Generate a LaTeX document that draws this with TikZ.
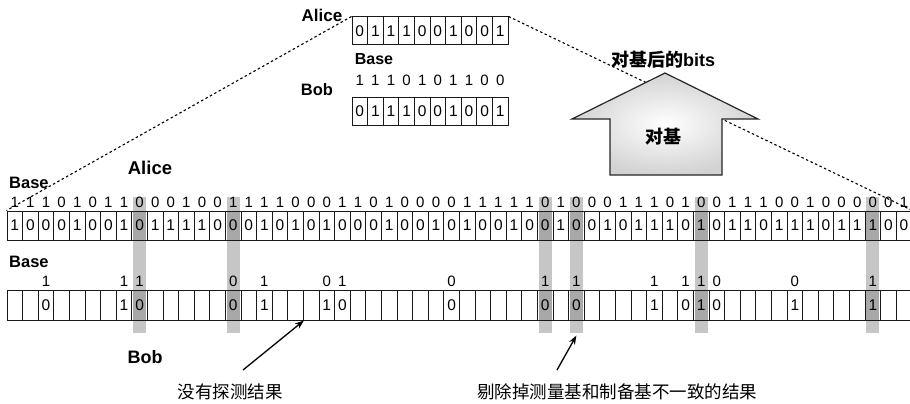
\documentclass[tikz,border=0pt]{standalone}
\usepackage{fontspec}
\setmainfont{Liberation Sans}
\newfontfamily\cjk{Noto Sans CJK SC}
\usetikzlibrary{arrows.meta}

\begin{document}
\begin{tikzpicture}[
    x=1pt, y=-1pt,
    cell/.style={draw=black!90, line width=1pt, minimum width=15.6pt, minimum height=29pt, inner sep=0pt, font=\fontsize{15.5}{15.5}\selectfont},
    bit/.style={inner sep=0pt, font=\fontsize{15}{15}\selectfont},
    tag/.style={inner sep=0pt, font=\bfseries\fontsize{16.5}{16.5}\selectfont},
    hl/.style={fill=gray!45},
    hlcell/.style={fill=gray!68},
    link/.style={line width=1.1pt, dash pattern=on 2.5pt off 2.5pt},
    pointer/.style={line width=1.3pt, -{Stealth[length=9pt,width=6.5pt]}},
    caption/.style={inner sep=0pt, font=\cjk\fontsize{17.5}{17.5}\selectfont},
    block/.style={draw=black!85, line width=1.2pt, inner color=white, outer color=gray!35}
]

\useasboundingbox (0,0) rectangle (910,404);
\clip (0,0) rectangle (910,404);

% Discarded columns (bases differ)
\foreach \i in {8,14,34,36,44,55} {
    \fill[hl] ({8.3+15.6*\i},197) rectangle ++(13,136);
    \fill[hlcell] ({8.3+15.6*\i},211) rectangle ++(13,29);
    \fill[hlcell] ({8.3+15.6*\i},290) rectangle ++(13,30);
}

% Alice bases
\foreach \v [count=\i from 0] in {1,1,1,0,1,0,1,1,0,0,0,1,0,0,1,1,1,1,0,0,0,1,1,0,1,0,0,0,0,1,1,1,1,1,0,1,0,0,0,1,1,1,0,1,0,0,1,1,1,0,0,1,0,0,0,0,0,1}
    \node[bit] (ab\i) at ({14.8+15.6*\i},202) {\v};

% Alice bits
\foreach \v [count=\i from 0] in {1,0,0,0,1,0,0,1,0,1,1,1,1,0,0,0,1,0,1,0,1,0,0,0,1,0,0,1,0,1,0,0,1,0,0,1,0,0,1,0,1,1,1,0,1,0,1,1,0,1,1,1,0,1,1,1,0,0}
    \node[cell] (a\i) at ({14.8+15.6*\i},225.5) {\v};

% Bob row
\foreach \i in {0,...,57}
    \node[cell, minimum height=30pt] (b\i) at ({14.8+15.6*\i},305) {};

% Bob detections: cell/base/bit
\foreach \i/\s/\v in {2/1/0,7/1/1,8/1/0,14/0/0,16/1/1,20/0/1,21/1/0,28/0/0,34/1/0,36/1/0,41/1/1,43/1/0,44/1/1,45/0/0,50/0/1,55/1/1} {
    \node[bit] (bs\i) at ({14.8+15.6*\i},281) {\s};
    \node[bit, font=\fontsize{15.5}{15.5}\selectfont] (bv\i) at (b\i) {\v};
}

% Sifted key
\foreach \v [count=\i from 0] in {0,1,1,1,0,0,1,0,0,1} {
    \node[cell, minimum height=28pt] (ka\i) at ({359.8+15.6*\i},31) {\v};
    \node[cell, minimum height=28pt] (kb\i) at ({359.8+15.6*\i},111) {\v};
}
\foreach \s [count=\i from 0] in {1,1,1,0,1,0,1,1,0,0}
    \node[bit] (ks\i) at ({359.8+15.6*\i},80) {\s};

% Zoom lines
\draw[link] (ka0.north west) -- (a0.north west);
\draw[link] (ka9.north east) -- (a57.north east);

% Sifting arrow
\draw[block] (665,73) -- (758,119) -- (722,119) -- (722,175) -- (610,175) -- (610,119) -- (572,119) -- cycle;
\node[font=\cjk\bfseries\fontsize{18}{18}\selectfont] (sift) at (663,137) {对基};
\node[font=\bfseries\fontsize{18}{18}\selectfont] (sifted) at (663,60) {{\cjk 对基后的}bits};

% Labels
\node[tag, font=\bfseries\fontsize{18.5}{18.5}\selectfont] (alice) at (150,168) {Alice};
\node[tag, anchor=west] (abase) at (9,183) {Base};
\node[tag, anchor=west] (bbase) at (9,262) {Base};
\node[tag, font=\bfseries\fontsize{18}{18}\selectfont] (bob) at (145,357) {Bob};
\node[tag, font=\bfseries\fontsize{17}{17}\selectfont] (kalice) at (322,15) {Alice};
\node[tag, font=\bfseries\fontsize{16}{16}\selectfont] (kbase) at (374,59) {Base};
\node[tag, font=\bfseries\fontsize{16.5}{16.5}\selectfont] (kbob) at (317,90) {Bob};

% Notes
\node[caption] (nodet) at (230,392) {没有探测结果};
\node[caption] (wrongbase) at (617,392) {剔除掉测量基和制备基不一致的结果};
\coordinate (tail1) at (243,370);
\coordinate (tail2) at (557,370);
\coordinate (tip2) at ([yshift=-15pt]b36.south);
\draw[pointer] (tail1) -- (b18.south east);
\draw[pointer] (tail2) -- (tip2);

\end{tikzpicture}
\end{document}
